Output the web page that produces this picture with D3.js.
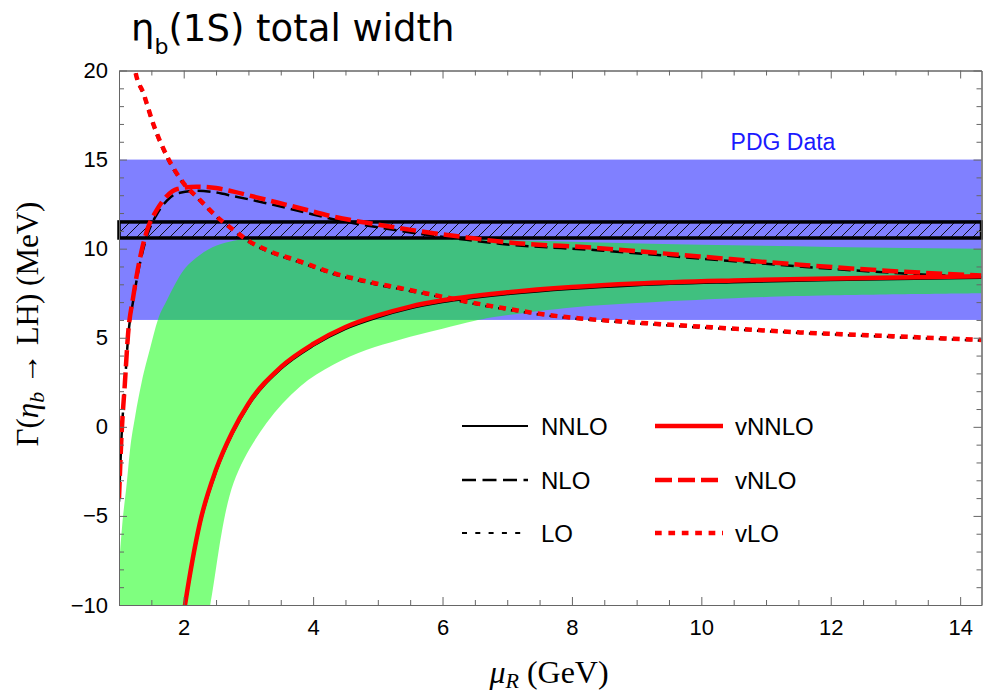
<!DOCTYPE html>
<html>
<head>
<meta charset="utf-8">
<script src="https://cdn.jsdelivr.net/npm/d3@7"></script>
<style>
  body { margin: 0; background: #fff; }
  svg { display: block; }
</style>
</head>
<body>
<div id="chart"></div>
<script>
// mu_R (GeV) vs Gamma (MeV)
var nnloBlack = [[1.95,-11.8],[2.02,-10.1],[2.25,-5.5],[2.5,-2.5],[2.75,-0.4],[3.0,1.2],[3.5,3.25],[4.0,4.55],[4.5,5.5],[5.0,6.15],[5.5,6.65],[6.0,7.0],[7.0,7.45],[8.0,7.75],[9.0,7.95],[10.5,8.12],[12.0,8.24],[14.33,8.37]];
var vnnloRed = [[1.95,-11.7],[2.02,-10],[2.25,-5.4],[2.5,-2.4],[2.75,-0.3],[3.0,1.3],[3.5,3.35],[4.0,4.65],[4.5,5.6],[5.0,6.25],[5.5,6.75],[6.0,7.1],[7.0,7.55],[8.0,7.85],[9.0,8.05],[10.5,8.22],[12.0,8.33],[14.33,8.45]];
var nloBlack = [[1.0,-4.2],[1.04,-0.5],[1.09,2.3],[1.14,5.0],[1.22,7.1],[1.35,9.6],[1.45,10.9],[1.58,11.9],[1.74,12.7],[1.9,13.1],[2.2,13.25],[2.5,13.15],[2.77,12.95],[3.28,12.55],[3.8,12.1],[4.31,11.65],[4.83,11.3],[5.34,11.0],[5.86,10.73],[6.37,10.5],[6.88,10.28],[8.43,9.9],[9.97,9.45],[11.52,9.0],[13.06,8.62],[14.33,8.4]];
var vnloRed = [[1.0,-4.0],[1.04,-0.4],[1.09,2.4],[1.14,5.2],[1.22,7.3],[1.35,9.9],[1.45,11.2],[1.58,12.15],[1.74,12.95],[1.9,13.35],[2.2,13.48],[2.5,13.4],[2.77,13.2],[3.28,12.74],[3.8,12.27],[4.31,11.8],[4.83,11.45],[5.34,11.15],[5.86,10.87],[6.37,10.63],[6.88,10.4],[8.43,10.03],[9.97,9.56],[11.52,9.1],[13.06,8.72],[14.33,8.5]];
var loBlack = [[1.2,21.3],[1.25,20],[1.38,18.6],[1.53,16.9],[1.74,15.1],[2.0,13.6],[2.25,12.68],[2.51,11.75],[2.77,11.0],[3.02,10.35],[3.28,9.88],[3.8,9.22],[4.31,8.58],[4.83,8.1],[5.34,7.73],[5.86,7.36],[6.37,6.98],[6.88,6.65],[7.91,6.12],[8.43,5.96],[9.97,5.58],[11.52,5.27],[13.06,5.02],[14.33,4.84]];
var vloRed = [[1.2,21.3],[1.25,20],[1.38,18.7],[1.53,17.0],[1.74,15.2],[2.0,13.67],[2.25,12.74],[2.51,11.8],[2.77,11.05],[3.02,10.4],[3.28,9.93],[3.8,9.28],[4.31,8.63],[4.83,8.16],[5.34,7.79],[5.86,7.41],[6.37,7.03],[6.88,6.7],[7.91,6.16],[8.43,6.0],[9.97,5.63],[11.52,5.3],[13.06,5.07],[14.33,4.88]];

// NNLO uncertainty band
var bandUpper = [[1.0,-7.8],[1.05,-5.5],[1.12,-3.15],[1.17,-1.3],[1.25,0.6],[1.35,2.5],[1.48,4.4],[1.6,6.0],[1.74,7.1],[2.0,8.8],[2.25,9.65],[2.77,10.45],[3.28,10.65],[4,10.7],[5,10.65],[6,10.58],[6.88,10.5],[8.43,10.35],[10,10.22],[12,10.1],[14.33,10.0]];
var bandLower = [[1.0,-12],[2.3,-12],[2.41,-10],[2.77,-3.15],[3.28,0.21],[3.8,2.27],[4.31,3.48],[4.83,4.32],[5.34,4.89],[6.0,5.5],[6.5,5.95],[6.88,6.2],[8,6.7],[9,6.95],[10.5,7.22],[12,7.38],[14.33,7.5]];

var pdgBand = [6, 15];
var pdgBox = [10.6, 11.5];

var xTicks = [2, 4, 6, 8, 10, 12, 14];
var yTicks = [-10, -5, 0, 5, 10, 15, 20];

var legendItems = [
  { label: 'NNLO', color: '#000', width: 2, dash: null, col: 0, row: 0 },
  { label: 'NLO', color: '#000', width: 2.5, dash: '14,6.5', col: 0, row: 1 },
  { label: 'LO', color: '#000', width: 2, dash: '5,8.3', col: 0, row: 2 },
  { label: 'vNNLO', color: '#f00', width: 4.5, dash: null, col: 1, row: 0 },
  { label: 'vNLO', color: '#f00', width: 4.5, dash: '17,6', col: 1, row: 1 },
  { label: 'vLO', color: '#f00', width: 4.5, dash: '6.7,6.7', col: 1, row: 2 }
];

var W = 983, H = 694;
var pLeft = 119, pRight = 981.5, pTop = 70.5, pBottom = 605;

var svg = d3.select('#chart').append('svg')
  .attr('width', W).attr('height', H);

var x = d3.scaleLinear().domain([1, 14.33]).range([pLeft, pRight]);
var y = d3.scaleLinear().domain([-10, 20]).range([pBottom, pTop]);

var defs = svg.append('defs');
defs.append('clipPath').attr('id', 'plotclip')
  .append('rect').attr('x', pLeft).attr('y', pTop)
  .attr('width', pRight - pLeft).attr('height', pBottom - pTop);

var hatch = defs.append('pattern').attr('id', 'hatch')
  .attr('patternUnits', 'userSpaceOnUse')
  .attr('width', 11).attr('height', 11);
hatch.append('rect').attr('width', 11).attr('height', 11).attr('fill', '#8080ff');
hatch.append('path').attr('d', 'M-1,12 L12,-1 M-2,2 L2,-2 M9,13 L13,9')
  .attr('stroke', '#000').attr('stroke-width', 0.9);

var bands = svg.append('g').attr('clip-path', 'url(#plotclip)');

// PDG band
bands.append('rect')
  .attr('x', pLeft).attr('width', pRight - pLeft)
  .attr('y', y(pdgBand[1])).attr('height', y(pdgBand[0]) - y(pdgBand[1]))
  .attr('fill', '#8080ff');

// green band: upper edge left-to-right, lower edge back right-to-left
var edge = d3.line()
  .x(function (d) { return x(d[0]); })
  .y(function (d) { return y(d[1]); })
  .curve(d3.curveMonotoneX);
var upperPath = edge(bandUpper);
var lowerPath = d3.line()
  .x(function (d) { return x(d[0]); })
  .y(function (d) { return y(d[1]); })
  .curve(d3.curveCatmullRom)(bandLower.slice().reverse());
bands.append('path')
  .attr('d', upperPath + 'L' + lowerPath.slice(1) + 'Z')
  .attr('fill', '#00ff00').attr('fill-opacity', 0.5);

// PDG hatched box
svg.append('rect')
  .attr('x', pLeft).attr('width', pRight - pLeft)
  .attr('y', y(pdgBox[1])).attr('height', y(pdgBox[0]) - y(pdgBox[1]))
  .attr('fill', 'url(#hatch)')
  .attr('stroke', '#000').attr('stroke-width', 3.5);

var curves = svg.append('g').attr('clip-path', 'url(#plotclip)');

var line = d3.line()
  .x(function (d) { return x(d[0]); })
  .y(function (d) { return y(d[1]); })
  .curve(d3.curveMonotoneX);

function drawCurve(data, color, width, dash) {
  curves.append('path')
    .attr('d', line(data))
    .attr('fill', 'none')
    .attr('stroke', color)
    .attr('stroke-width', width)
    .attr('stroke-dasharray', dash);
}

drawCurve(nnloBlack, '#000', 2.5, null);
drawCurve(nloBlack, '#000', 2.5, '13,6');
drawCurve(loBlack, '#000', 2.5, '7,6');
drawCurve(vnnloRed, '#f00', 4.5, null);
drawCurve(vnloRed, '#f00', 4.5, '16,6');
drawCurve(vloRed, '#f00', 4.5, '7,6');

// frame & ticks
var axisColor = '#666';
var xMinor = d3.range(1.5, 14.4, 0.5).filter(function (v) { return v % 2 !== 0; });
var yMinor = d3.range(-9, 20, 1).filter(function (v) { return v % 5 !== 0; });

function styleAxis(g) {
  g.select('.domain').attr('stroke', axisColor);
  g.selectAll('.tick line').attr('stroke', axisColor);
  g.selectAll('.tick text').attr('fill', '#000')
    .style('font-family', '"Liberation Sans", Arial, sans-serif')
    .style('font-size', '22px');
}

svg.append('g').attr('transform', 'translate(0,' + pBottom + ')')
  .call(d3.axisBottom(x).tickValues(xTicks).tickSize(-8).tickPadding(14).tickSizeOuter(0))
  .call(styleAxis);
svg.append('g').attr('transform', 'translate(0,' + pBottom + ')')
  .call(d3.axisBottom(x).tickValues(xMinor).tickSize(-5).tickFormat('').tickSizeOuter(0))
  .call(styleAxis);
svg.append('g').attr('transform', 'translate(0,' + pTop + ')')
  .call(d3.axisTop(x).tickValues(xTicks).tickSize(-8).tickFormat('').tickSizeOuter(0))
  .call(styleAxis);
svg.append('g').attr('transform', 'translate(0,' + pTop + ')')
  .call(d3.axisTop(x).tickValues(xMinor).tickSize(-5).tickFormat('').tickSizeOuter(0))
  .call(styleAxis);

svg.append('g').attr('transform', 'translate(' + pLeft + ',0)')
  .call(d3.axisLeft(y).tickValues(yTicks).tickSize(-8).tickPadding(11).tickSizeOuter(0)
    .tickFormat(function (d) { return d < 0 ? '\u2212' + Math.abs(d) : d; }))
  .call(styleAxis);
svg.append('g').attr('transform', 'translate(' + pLeft + ',0)')
  .call(d3.axisLeft(y).tickValues(yMinor).tickSize(-5).tickFormat('').tickSizeOuter(0))
  .call(styleAxis);
svg.append('g').attr('transform', 'translate(' + pRight + ',0)')
  .call(d3.axisRight(y).tickValues(yTicks).tickSize(-8).tickFormat('').tickSizeOuter(0))
  .call(styleAxis);
svg.append('g').attr('transform', 'translate(' + pRight + ',0)')
  .call(d3.axisRight(y).tickValues(yMinor).tickSize(-5).tickFormat('').tickSizeOuter(0))
  .call(styleAxis);

// PDG label
svg.append('text')
  .attr('x', 783).attr('y', 150)
  .attr('text-anchor', 'middle')
  .attr('fill', '#1a1aff')
  .style('font-family', '"Liberation Sans", Arial, sans-serif')
  .style('font-size', '23px')
  .text('PDG Data');

// legend
var legX = [462, 655], legTextX = [541, 735], legY = [426, 480, 533];
legendItems.forEach(function (d) {
  var x0 = legX[d.col];
  svg.append('line')
    .attr('x1', x0).attr('x2', x0 + (d.col === 0 ? 66 : 68))
    .attr('y1', legY[d.row]).attr('y2', legY[d.row])
    .attr('stroke', d.color).attr('stroke-width', d.width)
    .attr('stroke-dasharray', d.dash);
  svg.append('text')
    .attr('x', legTextX[d.col]).attr('y', legY[d.row] + 9)
    .style('font-family', '"Liberation Sans", Arial, sans-serif')
    .style('font-size', '24px')
    .text(d.label);
});

// title
var title = svg.append('text')
  .attr('x', 131).attr('y', 41)
  .style('font-family', '"DejaVu Sans", sans-serif')
  .style('font-size', '37px');
title.append('tspan').text('\u03b7');
title.append('tspan').attr('dy', 13).style('font-size', '22px').text('b');
title.append('tspan').attr('dy', -13).text('(1S) total width');

// x label
var xl = svg.append('text')
  .attr('x', 549).attr('y', 683)
  .attr('text-anchor', 'middle')
  .style('font-family', '"Liberation Serif", "Times New Roman", serif')
  .style('font-size', '32px');
xl.append('tspan').style('font-style', 'italic').text('\u03bc');
xl.append('tspan').attr('dy', 5).style('font-style', 'italic').style('font-size', '22px').text('R');
xl.append('tspan').attr('dy', -5).text(' (GeV)');

// y label
var yl = svg.append('text')
  .attr('transform', 'translate(38,324) rotate(-90)')
  .attr('text-anchor', 'middle')
  .style('font-family', '"Liberation Serif", "Times New Roman", serif')
  .style('font-size', '31px');
yl.append('tspan').text('\u0393(');
yl.append('tspan').style('font-style', 'italic').text('\u03b7');
yl.append('tspan').attr('dy', 6).style('font-style', 'italic').style('font-size', '22px').text('b');
yl.append('tspan').attr('dy', -6).text(' \u2192 LH) (MeV)');
</script>
</body>
</html>
